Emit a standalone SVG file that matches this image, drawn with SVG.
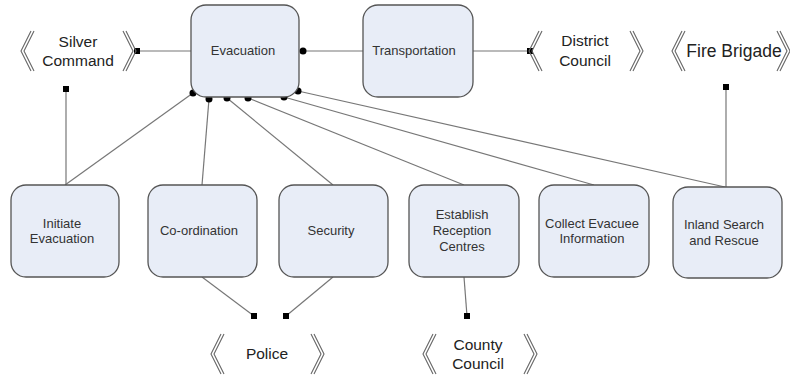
<svg xmlns="http://www.w3.org/2000/svg" width="790" height="375" viewBox="0 0 790 375">
<style>
.box{fill:#e8edf7;stroke:#555;stroke-width:1.3}
.lbl{font-family:"Liberation Sans",Arial,sans-serif;font-size:13px;fill:#333;text-anchor:middle}
.big{font-family:"Liberation Sans",Arial,sans-serif;font-size:15.5px;fill:#222;text-anchor:middle}
.con{stroke:#777;stroke-width:1.2;fill:none}
.chev{stroke:#666;stroke-width:1.1;fill:none}
.dot{fill:#000}
.sq{fill:#000}
</style>
<defs>
<g id="lch"><polyline class="chev" points="10,0 0,20 10,40"/><polyline class="chev" points="13,0 3,20 13,40"/></g>
<g id="rch"><polyline class="chev" points="0,0 10,20 0,40"/><polyline class="chev" points="3,0 13,20 3,40"/></g>
</defs>
<g id="connectors">
<line class="con" x1="137" y1="51" x2="191" y2="51"/>
<line class="con" x1="303" y1="51" x2="363" y2="51"/>
<line class="con" x1="473" y1="51" x2="530" y2="51"/>
<line class="con" x1="66" y1="89" x2="66" y2="185"/>
<line class="con" x1="726" y1="87" x2="726" y2="187"/>
<line class="con" x1="193" y1="93" x2="65" y2="185"/>
<line class="con" x1="209" y1="99" x2="202" y2="185"/>
<line class="con" x1="227" y1="98" x2="333" y2="185"/>
<line class="con" x1="248" y1="98" x2="464" y2="185"/>
<line class="con" x1="284" y1="97" x2="594" y2="185"/>
<line class="con" x1="298" y1="91" x2="725" y2="187"/>
<line class="con" x1="202" y1="277" x2="254" y2="316"/>
<line class="con" x1="333" y1="277" x2="286" y2="316"/>
<line class="con" x1="464" y1="277" x2="467" y2="316"/>
<circle class="dot" cx="303" cy="51" r="3.5"/>
<circle class="dot" cx="193" cy="93" r="3.5"/>
<circle class="dot" cx="209" cy="99" r="3.5"/>
<circle class="dot" cx="227" cy="98" r="3.5"/>
<circle class="dot" cx="248" cy="98" r="3.5"/>
<circle class="dot" cx="284" cy="97" r="3.5"/>
<circle class="dot" cx="298" cy="91" r="3.5"/>
<rect class="sq" x="134" y="48" width="6" height="6"/>
<rect class="sq" x="527" y="48" width="6" height="6"/>
<rect class="sq" x="63" y="86" width="6" height="6"/>
<rect class="sq" x="723" y="84" width="6" height="6"/>
<rect class="sq" x="251" y="313" width="6" height="6"/>
<rect class="sq" x="283" y="313" width="6" height="6"/>
<rect class="sq" x="464" y="313" width="6" height="6"/>
</g>
<g id="evacuation"><rect class="box" x="191" y="5" width="108" height="92" rx="15"/><text class="lbl" x="243" y="55">Evacuation</text></g>
<g id="transportation"><rect class="box" x="363" y="5" width="110" height="92" rx="15"/><text class="lbl" x="414" y="55">Transportation</text></g>
<g id="initiate"><rect class="box" x="11" y="185" width="108" height="92" rx="15"/><text class="lbl" x="62" y="228">Initiate</text><text class="lbl" x="62" y="243">Evacuation</text></g>
<g id="coordination"><rect class="box" x="148" y="185" width="109" height="92" rx="15"/><text class="lbl" x="199" y="235">Co-ordination</text></g>
<g id="security"><rect class="box" x="279" y="185" width="109" height="92" rx="15"/><text class="lbl" x="331" y="235">Security</text></g>
<g id="establish"><rect class="box" x="409" y="185" width="110" height="92" rx="15"/><text class="lbl" x="462" y="219">Establish</text><text class="lbl" x="462" y="235">Reception</text><text class="lbl" x="462" y="251">Centres</text></g>
<g id="collect"><rect class="box" x="539" y="185" width="110" height="92" rx="15"/><text class="lbl" x="592" y="228">Collect Evacuee</text><text class="lbl" x="592" y="243">Information</text></g>
<g id="inland"><rect class="box" x="673" y="187" width="109" height="91" rx="15"/><text class="lbl" x="724" y="229">Inland Search</text><text class="lbl" x="724" y="245">and Rescue</text></g>
<g id="silver"><use href="#lch" x="21" y="31"/><use href="#rch" x="123" y="31"/><text class="big" x="78" y="47">Silver</text><text class="big" x="78" y="66">Command</text></g>
<g id="district"><use href="#lch" x="529" y="31"/><use href="#rch" x="630" y="31"/><text class="big" x="585" y="46">District</text><text class="big" x="585" y="66">Council</text></g>
<g id="fire"><use href="#lch" x="672" y="31"/><use href="#rch" x="777" y="31"/><text class="big" x="734" y="57" style="font-size:17.5px">Fire Brigade</text></g>
<g id="police"><use href="#lch" x="211" y="334"/><use href="#rch" x="311" y="334"/><text class="big" x="267" y="359">Police</text></g>
<g id="county"><use href="#lch" x="423" y="334"/><use href="#rch" x="524" y="334"/><text class="big" x="478" y="350">County</text><text class="big" x="478" y="369">Council</text></g>
</svg>
